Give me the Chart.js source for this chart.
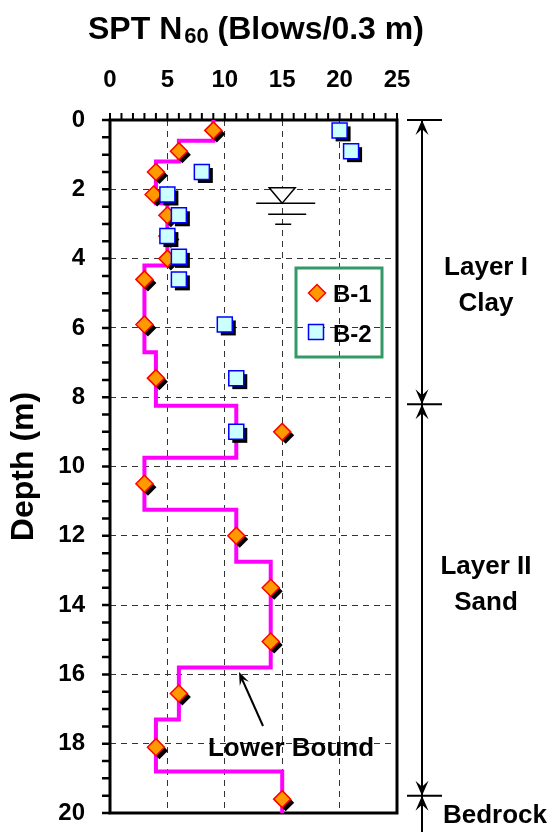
<!DOCTYPE html>
<html>
<head>
<meta charset="utf-8">
<script src="https://cdn.jsdelivr.net/npm/chart.js@4.4.1/dist/chart.umd.min.js"></script>
<style>
  html, body { margin: 0; padding: 0; background: #fff; }
  #wrap { width: 551px; height: 832px; position: relative; }
</style>
</head>
<body>
<div id="wrap"><canvas id="spt-canvas"></canvas></div>
<script>
const FONT = "'Liberation Sans', Arial, Helvetica, sans-serif"

// Boring B-1 (depth m, N60)
const b1Depth = [0.3, 0.9, 1.5, 2.15, 2.75, 3.35, 4.0, 4.6, 5.9, 7.45, 9.0, 10.5, 12.0, 13.5, 15.05, 16.55, 18.1, 19.6]
const b1N = [9, 6, 4, 3.8, 5, 5, 5, 3, 3, 4, 15, 3, 11, 14, 14, 6, 4, 15]

// Boring B-2
const b2Depth = [0.3, 0.9, 1.5, 2.15, 2.75, 3.35, 3.95, 4.6, 5.9, 7.45, 9.0]
const b2N = [20, 21, 8, 5, 6, 5, 6, 6, 10, 11, 11]

// Lower bound step line: top depth of each step and its N value
const lowerBoundTop = [0, 0.6, 1.2, 2.4, 4.2, 6.7, 8.25, 9.75, 11.25, 12.75, 15.8, 17.3, 18.8, 20]
const lowerBoundN = [9, 6, 4, 5, 3, 4, 11, 3, 11, 14, 6, 4, 15, 15]

const nTicks = [0, 5, 10, 15, 20, 25]
const depthTicks = [0, 2, 4, 6, 8, 10, 12, 14, 16, 18, 20]

// layer boundaries (m) and names
const layerDepths = [0, 8.2, 19.5]
const layerNames = [["Layer I", "Clay"], ["Layer II", "Sand"]]
const waterTableDepth = 2.4

const toPoints = (xs, ys) => xs.map((v, i) => ({ x: v, y: ys[i] }))

function arrowHead(ctx, x, y, dx, dy, len, half) {
  // tip at (x,y), pointing along (dx,dy)
  const m = Math.hypot(dx, dy)
  const ux = dx / m, uy = dy / m
  const bx = x - ux * len, by = y - uy * len
  const nx = -uy, ny = ux
  ctx.beginPath()
  ctx.moveTo(x, y)
  ctx.lineTo(bx + nx * half, by + ny * half)
  ctx.lineTo(x - ux * len * 0.6, y - uy * len * 0.6)
  ctx.lineTo(bx - nx * half, by - ny * half)
  ctx.closePath()
  ctx.fill()
}

function markerPath(ctx, style, x, y, r) {
  ctx.beginPath()
  if (style === "rectRot") {
    ctx.moveTo(x, y - r); ctx.lineTo(x + r, y); ctx.lineTo(x, y + r); ctx.lineTo(x - r, y)
  } else {
    const h = r * Math.SQRT1_2
    ctx.rect(x - h, y - h, 2 * h, 2 * h)
  }
  ctx.closePath()
}

const decorations = {
  id: "decorations",
  beforeDatasetsDraw(chart) {
    const { ctx, chartArea: a, scales: { x, y } } = chart
    ctx.save()
    ctx.strokeStyle = "#000"
    // minor ticks on top axis (every 1) and left axis (every 0.5 m)
    ctx.lineWidth = 2
    ctx.beginPath()
    for (let v = nTicks[0]; v <= nTicks[nTicks.length - 1]; v++) {
      const px = x.getPixelForValue(v)
      ctx.moveTo(px, a.top)
      ctx.lineTo(px, a.top - 7)
    }
    ctx.stroke()
    ctx.lineWidth = 2.5
    ctx.beginPath()
    for (let d = depthTicks[0]; d <= depthTicks[depthTicks.length - 1]; d += 0.5) {
      const py = y.getPixelForValue(d)
      ctx.moveTo(a.left, py)
      ctx.lineTo(a.left - 8, py)
    }
    ctx.stroke()
    // plot frame
    ctx.lineWidth = 3
    ctx.strokeRect(a.left, a.top, a.right - a.left, a.bottom - a.top)

    // water table symbol
    const wx = x.getPixelForValue(15)
    const wy = y.getPixelForValue(waterTableDepth)
    ctx.lineWidth = 1.5
    ctx.fillStyle = "#fff"
    ctx.beginPath()
    ctx.moveTo(wx, wy)
    ctx.lineTo(wx - 13, wy - 15.5)
    ctx.lineTo(wx + 13, wy - 15.5)
    ctx.closePath()
    ctx.fill()
    ctx.stroke()
    ctx.beginPath()
    ctx.moveTo(wx - 26, wy); ctx.lineTo(wx + 33, wy)
    ctx.moveTo(wx - 14, wy + 11); ctx.lineTo(wx + 24, wy + 11)
    ctx.moveTo(wx - 7, wy + 21); ctx.lineTo(wx + 9, wy + 21)
    ctx.stroke()
    ctx.restore()
  },
  beforeDatasetDraw(chart, args) {
    // solid black drop shadow under each marker, offset down-right
    const ds = chart.data.datasets[args.index]
    if (!ds.shadow) return
    const ctx = chart.ctx
    ctx.save()
    ctx.fillStyle = "#000"
    args.meta.data.forEach(el => {
      markerPath(ctx, ds.pointStyle, el.x + 3.5, el.y + 3.5, ds.pointRadius)
      ctx.fill()
    })
    ctx.restore()
  },
  afterDraw(chart) {
    const { ctx, scales: { y } } = chart
    ctx.save()
    ctx.fillStyle = "#000"
    ctx.strokeStyle = "#000"

    // axis title with subscript
    ctx.textBaseline = "alphabetic"
    ctx.textAlign = "left"
    let tx = 88
    ctx.font = "bold 32px " + FONT
    ctx.fillText("SPT N", tx, 39)
    tx += ctx.measureText("SPT N").width + 2
    ctx.font = "bold 22px " + FONT
    ctx.fillText("60", tx, 43)
    tx += ctx.measureText("60").width
    ctx.font = "bold 32px " + FONT
    ctx.fillText(" (Blows/0.3 m)", tx, 39)

    // legend
    ctx.lineWidth = 3
    ctx.strokeStyle = "#339966"
    ctx.strokeRect(296, 268, 86, 89)
    ctx.lineWidth = 1.5
    ctx.fillStyle = "#FF9900"
    ctx.strokeStyle = "#FF0000"
    markerPath(ctx, "rectRot", 317, 293, 8.5)
    ctx.fill(); ctx.stroke()
    ctx.fillStyle = "#CCFFFF"
    ctx.strokeStyle = "#0000FF"
    markerPath(ctx, "rect", 316, 332, 10.6)
    ctx.fill(); ctx.stroke()
    ctx.fillStyle = "#000"
    ctx.font = "bold 24px " + FONT
    ctx.fillText("B-1", 333, 302)
    ctx.fillText("B-2", 333, 342)

    // lower bound label and arrow
    ctx.font = "bold 26px " + FONT
    ctx.textAlign = "center"
    ctx.fillText("Lower Bound", 291, 756)
    ctx.lineWidth = 2
    ctx.strokeStyle = "#000"
    ctx.beginPath()
    ctx.moveTo(263, 726); ctx.lineTo(242, 679)
    ctx.stroke()
    arrowHead(ctx, 239, 672, -24, -53, 13, 5)

    // layer dimension lines
    const dimX = 422
    const py = layerDepths.map(d => y.getPixelForValue(d))
    ctx.lineWidth = 2
    ctx.beginPath()
    ctx.moveTo(dimX, py[0]); ctx.lineTo(dimX, chart.height)
    py.forEach(p => { ctx.moveTo(407, p); ctx.lineTo(442, p) })
    ctx.stroke()
    py.forEach((p, i) => {
      if (i > 0) arrowHead(ctx, dimX, p, 0, 1, 15, 6.5)
      arrowHead(ctx, dimX, p, 0, -1, 15, 6.5)
    })

    ctx.font = "bold 26px " + FONT
    ctx.textAlign = "center"
    const labelBase = [275, 574]
    layerNames.forEach((lines, i) => {
      lines.forEach((t, j) => ctx.fillText(t, 486, labelBase[i] + j * 36))
    })
    ctx.fillText("Bedrock", 495, 823)
    ctx.restore()
  }
}

const tickFont = { family: FONT, size: 24, weight: "bold" }

new Chart(document.getElementById("spt-canvas"), {
  type: "scatter",
  data: {
    datasets: [
      {
        label: "B-2",
        data: toPoints(b2N, b2Depth),
        pointStyle: "rect",
        pointRadius: 10.6,
        backgroundColor: "#CCFFFF",
        borderColor: "#0000FF",
        borderWidth: 1.5,
        shadow: true,
        clip: false,
        order: 0,
      },
      {
        label: "B-1",
        data: toPoints(b1N, b1Depth),
        pointStyle: "rectRot",
        pointRadius: 8.5,
        backgroundColor: "#FF9900",
        borderColor: "#FF0000",
        borderWidth: 1.5,
        shadow: true,
        clip: false,
        order: 1,
      },
      {
        label: "Lower Bound",
        data: toPoints(lowerBoundN, lowerBoundTop),
        showLine: true,
        stepped: "after",
        borderColor: "#FF00FF",
        borderWidth: 4,
        pointRadius: 0,
        fill: false,
        clip: false,
        order: 2,
      },
    ],
  },
  options: {
    responsive: true,
    maintainAspectRatio: false,
    animation: false,
    events: [],
    layout: { padding: { left: 0, top: 0, right: 154, bottom: 19 } },
    plugins: {
      legend: { display: false },
      tooltip: { enabled: false },
    },
    scales: {
      x: {
        type: "linear",
        position: "top",
        min: 0,
        max: 25,
        afterFit: (s) => { s.height = 120; s.paddingLeft = 0; s.paddingRight = 0 },
        afterBuildTicks: (s) => { s.ticks = nTicks.map(v => ({ value: v })) },
        ticks: { padding: 25, color: "#000", font: tickFont },
        grid: { color: "#333", lineWidth: 1, drawTicks: false },
        border: { display: false, dash: [6, 5] },
      },
      y: {
        type: "linear",
        reverse: true,
        min: 0,
        max: 20,
        afterFit: (s) => { s.width = 110; s.paddingTop = 0; s.paddingBottom = 0 },
        afterBuildTicks: (s) => { s.ticks = depthTicks.map(v => ({ value: v })) },
        ticks: { padding: 25, color: "#000", font: tickFont },
        title: {
          display: true,
          text: "Depth (m)",
          color: "#000",
          font: { family: FONT, size: 32, weight: "bold" },
          padding: { top: 5 },
        },
        grid: { color: "#333", lineWidth: 1, drawTicks: false },
        border: { display: false, dash: [6, 5] },
      },
    },
  },
  plugins: [decorations],
})
</script>
</body>
</html>
